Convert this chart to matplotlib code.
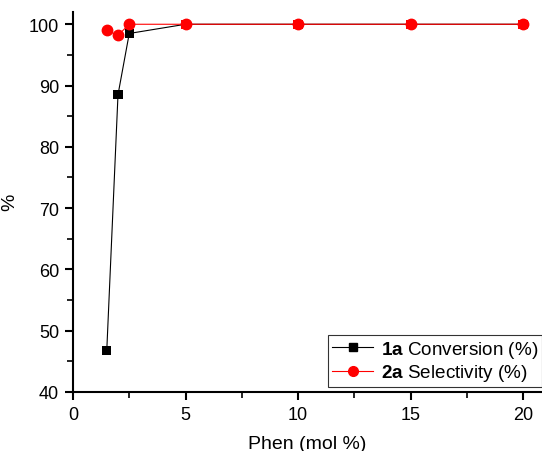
import matplotlib
matplotlib.use("Agg")
import matplotlib.pyplot as plt
from matplotlib.ticker import MultipleLocator

phen = [1.5, 2, 2.5, 5, 10, 15, 20]
conversion = [46.7, 88.5, 98.5, 100, 100, 100, 100]
selectivity = [99.0, 98.2, 100, 100, 100, 100, 100]

plt.rcParams['font.family'] = ['Liberation Sans', 'DejaVu Sans']
plt.rcParams['mathtext.fontset'] = 'custom'
plt.rcParams['mathtext.bf'] = 'Liberation Sans:bold'
plt.rcParams['mathtext.rm'] = 'Liberation Sans'

fig = plt.figure(figsize=(5.42, 4.52), dpi=100)
ax = fig.add_axes([73/542, 1-393/452, 1-73/542, (393-13)/452])

ax.plot(phen, conversion, color='black', linewidth=0.8, zorder=2)
sq_colors = ['red' if c == s else 'black' for c, s in zip(conversion, selectivity)]
ax.scatter(phen, conversion, marker='s', s=6.5**2, c=sq_colors, linewidths=0, zorder=3)
ax.plot(phen, selectivity, color='red', marker='o', markersize=7.5, linewidth=0.8, zorder=4)

# legend proxies
h1, = ax.plot([], [], color='black', marker='s', markersize=6, linewidth=0.8)
h2, = ax.plot([], [], color='red', marker='o', markersize=7, linewidth=0.8)

ax.set_xlim(0, 469/22.5)
ax.set_ylim(40, 102)
ax.xaxis.set_major_locator(MultipleLocator(5))
ax.xaxis.set_minor_locator(MultipleLocator(2.5))
ax.yaxis.set_major_locator(MultipleLocator(10))
ax.yaxis.set_minor_locator(MultipleLocator(5))
ax.spines['top'].set_visible(False)
ax.spines['right'].set_visible(False)
for s in ['left', 'bottom']:
    ax.spines[s].set_linewidth(1.5)
ax.tick_params(which='major', direction='out', length=6, width=1.5, labelsize=13, pad=4)
ax.tick_params(which='minor', direction='out', length=4, width=1.2)
ax.set_xlabel('Phen (mol %)', fontsize=14, labelpad=9)
ax.set_ylabel('%', fontsize=14)
ax.yaxis.set_label_coords(-(73-18)/469, (393-202)/380)

leg = ax.legend([h1, h2], [r'$\mathbf{1a}$ Conversion (%)', r'$\mathbf{2a}$ Selectivity (%)'],
                loc='lower left', bbox_to_anchor=((328-73)/469, (393-388)/380),
                fontsize=13.6, frameon=True, fancybox=False, edgecolor='black',
                borderpad=0.2, handlelength=2.2, labelspacing=0.12, handletextpad=0.4,
                borderaxespad=0)
leg.get_frame().set_linewidth(0.8)

fig.savefig('out.png', dpi=100)
